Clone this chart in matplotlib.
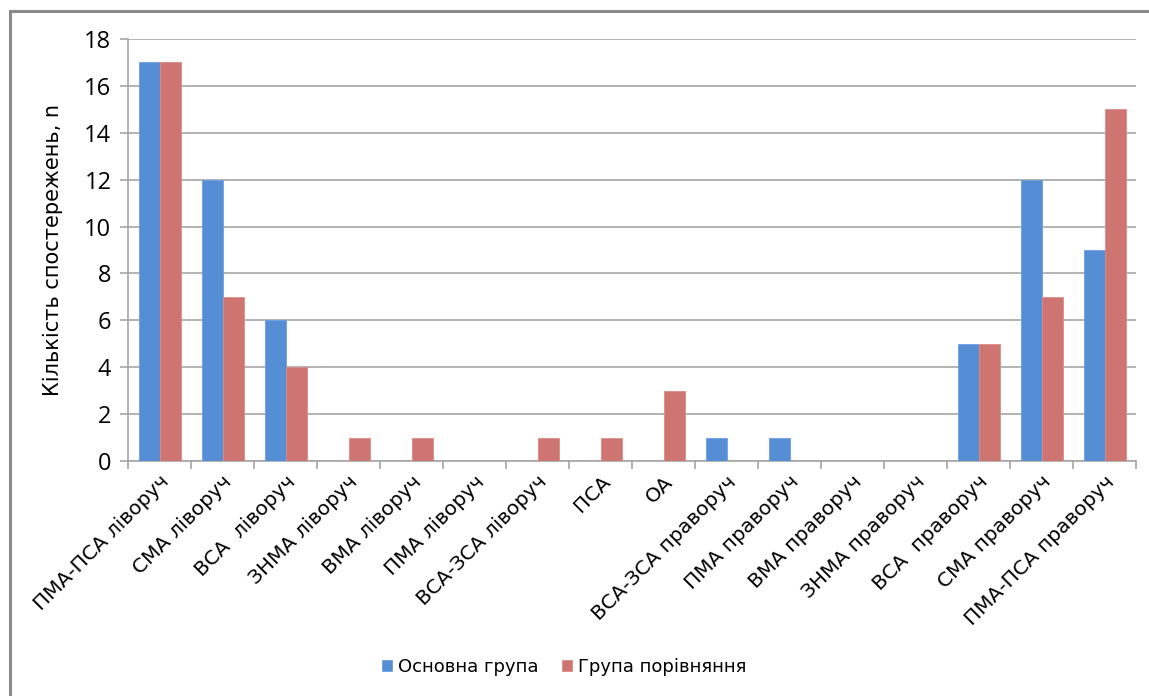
import matplotlib
matplotlib.use("Agg")
import matplotlib.pyplot as plt
from matplotlib.patches import Rectangle
import numpy as np

# дані
categories = ["ПМА-ПСА ліворуч", "СМА ліворуч", "ВСА  ліворуч", "ЗНМА ліворуч",
              "ВМА ліворуч", "ПМА ліворуч", "ВСА-ЗСА ліворуч", "ПСА", "ОА",
              "ВСА-ЗСА праворуч", "ПМА праворуч", "ВМА праворуч", "ЗНМА праворуч",
              "ВСА  праворуч", "СМА праворуч", "ПМА-ПСА праворуч"]
main_group = [17, 12, 6, 0, 0, 0, 0, 0, 0, 1, 1, 0, 0, 5, 12, 9]
compare_group = [17, 7, 4, 1, 1, 0, 1, 1, 3, 0, 0, 0, 0, 5, 7, 15]
series_names = ["Основна група", "Група порівняння"]
y_ticks = [0, 2, 4, 6, 8, 10, 12, 14, 16, 18]

blue = "#558ed5"
red = "#cf7571"
grid_c = "#a6a6a6"

fig = plt.figure(figsize=(11.49, 6.96), dpi=100)
ax = fig.add_axes([128 / 1149, 235 / 696, 1008 / 1149, 422 / 696])

x = np.arange(len(categories))
w = 1 / 3
ax.bar(x - w / 2, main_group, w, color=blue, edgecolor="#6d9ee0", linewidth=0.6,
       label=series_names[0], zorder=3)
ax.bar(x + w / 2, compare_group, w, color=red, edgecolor="#dd8b88", linewidth=0.6,
       label=series_names[1], zorder=3)

ax.set_xlim(-0.5, len(categories) - 0.5)
ax.set_ylim(0, 18)
ax.set_yticks(y_ticks)
ax.set_yticklabels([str(t) for t in y_ticks], fontfamily="Open Sans", fontsize=17)
ax.yaxis.grid(True, color=grid_c, linewidth=1.2, zorder=0)

# підписи категорій
ax.set_xticks(x)
ax.set_xticklabels(categories, rotation=45, ha="right", rotation_mode="anchor",
                   fontfamily="DejaVu Sans", fontsize=14.5)
ax.tick_params(axis="x", which="major", length=0, pad=8)
ax.set_xticks(np.arange(-0.5, len(categories), 1), minor=True)
ax.tick_params(axis="x", which="minor", length=6, color=grid_c, width=1.2)
ax.tick_params(axis="y", length=6, color=grid_c, width=1.2, pad=6)

for s in ["top", "right"]:
    ax.spines[s].set_visible(False)
for s in ["left", "bottom"]:
    ax.spines[s].set_color(grid_c)
    ax.spines[s].set_linewidth(1.2)

ax.set_ylabel("Кількість спостережень, n", fontfamily="DejaVu Sans", fontsize=15)
ax.yaxis.set_label_coords(-0.064, 0.5)

leg = fig.legend(loc="center", bbox_to_anchor=(564 / 1149, 1 - 667 / 696), ncol=2,
                 frameon=False, prop={"family": "DejaVu Sans", "size": 13},
                 handlelength=0.55, handleheight=0.55, handletextpad=0.35,
                 columnspacing=1.3)

# рамка
fig.patches.append(Rectangle((10 / 1149, -0.05), 1.2, 1 - 11 / 696 + 0.05,
                             transform=fig.transFigure, fill=False,
                             edgecolor="#8a8a8a", linewidth=2.2))

fig.savefig("out.png", dpi=100)
